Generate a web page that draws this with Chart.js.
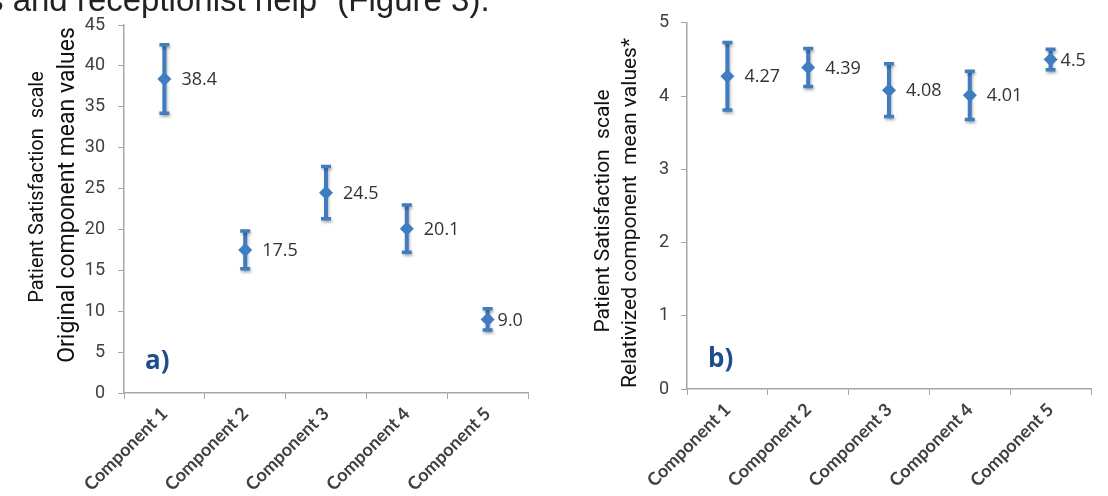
<!DOCTYPE html>
<html>
<head>
<meta charset="utf-8">
<script src="https://cdn.jsdelivr.net/npm/chart.js@4.4.0/dist/chart.umd.min.js"></script>
<style>
    body { margin: 0; background: #fff; }
    #wrap { position: relative; width: 1108px; height: 496px; overflow: hidden; background: #fff; }
    #wrap canvas { position: absolute; top: 0; }
    #leftChart { left: 0; }
    #rightChart { left: 554px; }
    #caption {
        position: absolute; left: -13px; top: -17px;
        font: 33px 'Liberation Sans', Arial, sans-serif; line-height: 33px;
        color: #222; white-space: nowrap;
    }
</style>
</head>
<body>
<div id="wrap">
    <canvas id="leftChart" width="554" height="496"></canvas>
    <canvas id="rightChart" width="554" height="496"></canvas>
    <div id="caption">s and receptionist help” (Figure 3).</div>
</div>
<script>
// Data
const categories = ['Component 1', 'Component 2', 'Component 3', 'Component 4', 'Component 5'];
const originalMeans = [38.4, 17.5, 24.5, 20.1, 9.0];
const originalErrors = [4.2, 2.3, 3.2, 2.9, 1.3];
const relativeMeans = [4.27, 4.39, 4.08, 4.01, 4.5];
const relativeErrors = [0.46, 0.26, 0.36, 0.33, 0.14];
const originalAxis = { max: 45, step: 5 };
const relativeAxis = { max: 5, step: 1 };
const originalTitle = ['Patient Satisfaction  scale', 'Original component mean values'];
const relativeTitle = ['Patient Satisfaction  scale', 'Relativized component  mean values*'];

const BLUE = '#3F7CC0';
const AXIS_GREY = '#a6a6a6';
const TEXT_FONT = "'Roboto', 'Liberation Sans', sans-serif";

// error bars, value labels, panel letter and the two-line axis title
const errorBarPlugin = {
    id: 'errorBars',
    beforeDatasetsDraw(chart) {
        const o = chart.options.plugins.errorBars;
        const meta = chart.getDatasetMeta(0);
        const y = chart.scales.y;
        const ctx = chart.ctx;
        ctx.save();
        ctx.strokeStyle = BLUE;
        ctx.shadowColor = 'rgba(0,0,0,0.3)';
        ctx.shadowBlur = 3;
        ctx.shadowOffsetX = 1;
        ctx.shadowOffsetY = 2;
        meta.data.forEach((pt, i) => {
            const m = o.means[i], e = o.errors[i];
            const top = y.getPixelForValue(m + e);
            const bot = y.getPixelForValue(m - e);
            ctx.lineWidth = 4;
            ctx.beginPath();
            ctx.moveTo(pt.x, top);
            ctx.lineTo(pt.x, bot);
            ctx.stroke();
            ctx.lineWidth = 3.5;
            ctx.beginPath();
            ctx.moveTo(pt.x - 5, top);
            ctx.lineTo(pt.x + 5, top);
            ctx.moveTo(pt.x - 5, bot);
            ctx.lineTo(pt.x + 5, bot);
            ctx.stroke();
        });
        ctx.restore();
    },
    afterDatasetsDraw(chart) {
        const o = chart.options.plugins.errorBars;
        const meta = chart.getDatasetMeta(0);
        const ctx = chart.ctx;
        ctx.save();
        ctx.font = "18px 'Open Sans', sans-serif";
        ctx.fillStyle = '#333';
        ctx.textBaseline = 'middle';
        ctx.textAlign = 'left';
        meta.data.forEach((pt, i) => {
            const v = o.means[i];
            const txt = o.decimals === null ? String(v) : v.toFixed(o.decimals);
            // last label sits closer to its marker in the original
            const dx = i === meta.data.length - 1 ? 10 : 17;
            ctx.fillText(txt, pt.x + dx, pt.y + 1);
        });
        // panel letter
        const area = chart.chartArea;
        ctx.font = "bold 26px 'Open Sans', sans-serif";
        ctx.fillStyle = '#1F4E8C';
        ctx.textBaseline = 'alphabetic';
        ctx.fillText(o.panel, area.left + o.panelDx, area.bottom - o.panelDy);
        // rotated axis title lines
        ctx.fillStyle = '#111';
        ctx.textAlign = 'center';
        ctx.textBaseline = 'middle';
        o.titleLines.forEach((line, i) => {
            const p = o.titlePos[i];
            ctx.save();
            ctx.translate(p.x, p.y);
            ctx.rotate(-Math.PI / 2);
            ctx.font = p.size + 'px ' + TEXT_FONT;
            ctx.fillText(line, 0, 0);
            ctx.restore();
        });
        ctx.restore();
    }
};

function makeChart(id, means, errors, axis, title, cfg) {
    return new Chart(document.getElementById(id), {
        type: 'line',
        data: {
            labels: categories,
            datasets: [{
                data: means,
                showLine: false,
                pointStyle: 'rectRot',
                pointRadius: 7,
                pointHoverRadius: 7,
                backgroundColor: BLUE,
                borderColor: BLUE,
                borderWidth: 0
            }]
        },
        options: {
            responsive: false,
            animation: false,
            layout: { padding: { top: cfg.top, right: cfg.right, left: 0, bottom: 0 } },
            plugins: {
                legend: { display: false },
                tooltip: { enabled: false },
                errorBars: {
                    means: means,
                    errors: errors,
                    decimals: cfg.decimals,
                    panel: cfg.panel,
                    panelDx: cfg.panelDx,
                    panelDy: cfg.panelDy,
                    titleLines: title,
                    titlePos: cfg.titlePos
                }
            },
            scales: {
                x: {
                    offset: true,
                    grid: { offset: true, drawOnChartArea: false, drawTicks: true, tickLength: 6, color: AXIS_GREY },
                    border: { color: AXIS_GREY, width: 1.5 },
                    ticks: {
                        minRotation: 45, maxRotation: 45, padding: 4,
                        color: '#404040',
                        font: { family: "'Lato', sans-serif", size: 18, weight: 'bold' }
                    },
                    afterFit(scale) { scale.height = cfg.xHeight; }
                },
                y: {
                    min: 0, max: axis.max,
                    grid: { drawOnChartArea: false, drawTicks: true, tickLength: 6, color: AXIS_GREY },
                    border: { color: AXIS_GREY, width: 1.5 },
                    ticks: {
                        stepSize: axis.step, padding: cfg.tickPad,
                        color: '#404040',
                        font: { family: TEXT_FONT, size: 18 }
                    },
                    afterFit(scale) { scale.width = cfg.yWidth; }
                }
            }
        },
        plugins: [errorBarPlugin]
    });
}

makeChart('leftChart', originalMeans, originalErrors, originalAxis, originalTitle,
    { top: 25, right: 26, xHeight: 103, yWidth: 124, tickPad: 13,
      decimals: 1, panel: 'a)', panelDx: 21, panelDy: 24,
      titlePos: [{ x: 38, y: 187, size: 20 }, { x: 68, y: 195, size: 23 }] });

makeChart('rightChart', relativeMeans, relativeErrors, relativeAxis, relativeTitle,
    { top: 20, right: 17, xHeight: 107, yWidth: 133, tickPad: 12,
      decimals: null, panel: 'b)', panelDx: 21, panelDy: 22,
      titlePos: [{ x: 50, y: 211, size: 21 }, { x: 77, y: 213, size: 21 }] });
</script>
</body>
</html>
